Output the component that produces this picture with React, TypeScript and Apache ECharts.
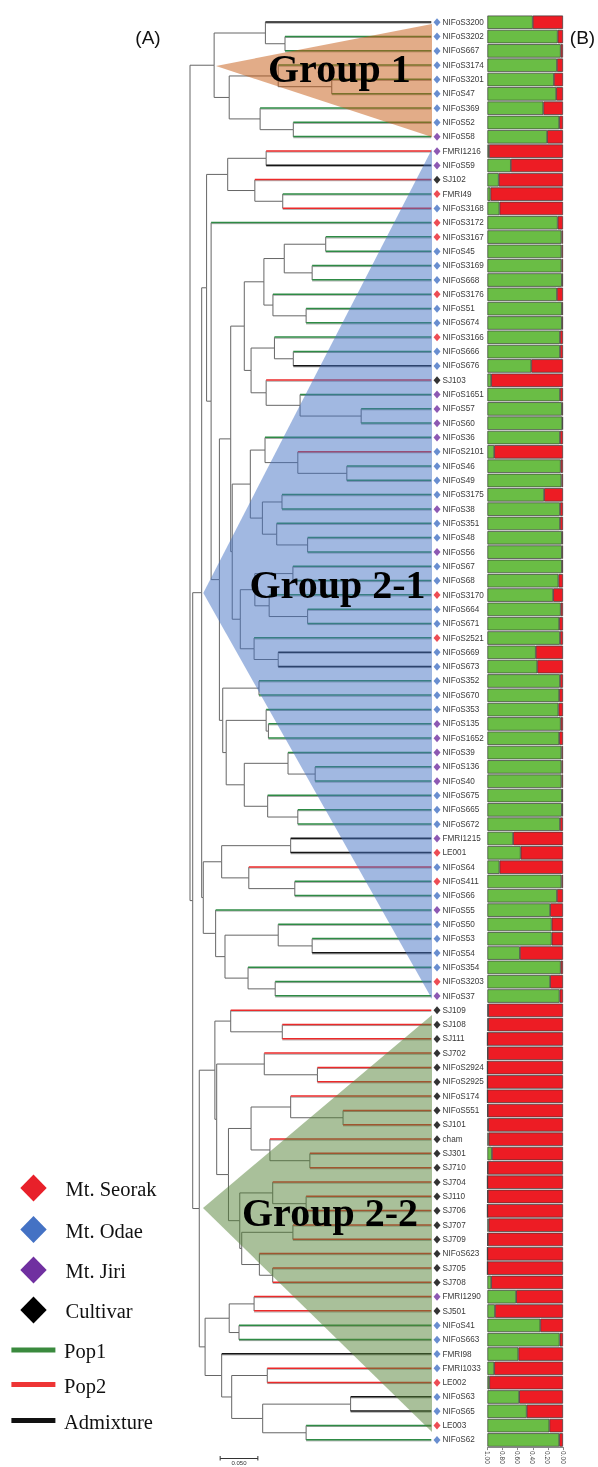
import React, { useEffect, useRef } from 'react';
import * as echarts from 'echarts';

// ---------- data ----------
const leafNames = [
  'NIFoS3200','NIFoS3202','NIFoS667','NIFoS3174','NIFoS3201','NIFoS47','NIFoS369','NIFoS52','NIFoS58','FMRI1216',
  'NIFoS59','SJ102','FMRI49','NIFoS3168','NIFoS3172','NIFoS3167','NIFoS45','NIFoS3169','NIFoS668','NIFoS3176',
  'NIFoS51','NIFoS674','NIFoS3166','NIFoS666','NIFoS676','SJ103','NIFoS1651','NIFoS57','NIFoS60','NIFoS36',
  'NIFoS2101','NIFoS46','NIFoS49','NIFoS3175','NIFoS38','NIFoS351','NIFoS48','NIFoS56','NIFoS67','NIFoS68',
  'NIFoS3170','NIFoS664','NIFoS671','NIFoS2521','NIFoS669','NIFoS673','NIFoS352','NIFoS670','NIFoS353','NIFoS135',
  'NIFoS1652','NIFoS39','NIFoS136','NIFoS40','NIFoS675','NIFoS665','NIFoS672','FMRI1215','LE001','NIFoS64',
  'NIFoS411','NIFoS66','NIFoS55','NIFoS50','NIFoS53','NIFoS54','NIFoS354','NIFoS3203','NIFoS37','SJ109',
  'SJ108','SJ111','SJ702','NIFoS2924','NIFoS2925','NIFoS174','NIFoS551','SJ101','cham','SJ301',
  'SJ710','SJ704','SJ110','SJ706','SJ707','SJ709','NIFoS623','SJ705','SJ708','FMRI1290',
  'SJ501','NIFoS41','NIFoS663','FMRI98','FMRI1033','LE002','NIFoS63','NIFoS65','LE003','NIFoS62',
];

// S = Mt. Seorak, O = Mt. Odae, J = Mt. Jiri, C = Cultivar
const leafSite = [
  'O','O','O','O','O','O','O','O','J','J',
  'J','C','S','O','S','S','O','O','O','S',
  'O','O','S','O','O','C','J','J','J','J',
  'O','O','O','O','J','O','O','J','O','O',
  'S','O','O','S','O','O','O','O','O','J',
  'J','J','J','J','O','O','O','J','S','O',
  'S','O','J','O','O','O','O','S','J','C',
  'C','C','C','C','C','C','C','C','C','C',
  'C','C','C','C','C','C','C','C','C','J',
  'C','O','O','O','O','S','O','O','S','O',
];

// P1 = Pop1, P2 = Pop2, A = Admixture
const leafCluster = [
  'A','P1','P1','P1','P1','P1','P1','P1','P1','P2',
  'A','P2','P1','P2','P1','P1','P1','P1','P1','P1',
  'P1','P1','P1','P1','A','P2','P1','P1','P1','P1',
  'P2','P1','P1','P1','P1','P1','P1','P1','P1','P1',
  'P1','P1','P1','P1','A','A','P1','P1','P1','P1',
  'P1','P1','P1','P1','P1','P1','P1','A','A','P2',
  'P1','P1','P1','P1','P1','A','P1','P1','P1','P2',
  'P2','P2','P2','P2','P2','P2','P2','P2','P2','P2',
  'P2','P2','P2','P2','P2','P2','P2','P2','P2','P2',
  'P2','P1','P1','A','P2','P2','A','A','P1','P1',
];

// share of Pop1 (green) in the structure plot
const pop1Share = [
  0.60,0.93,0.97,0.92,0.88,0.91,0.74,0.95,0.79,0.02,
  0.31,0.15,0.04,0.16,0.93,0.98,0.98,0.98,0.985,0.92,
  0.985,0.985,0.96,0.96,0.58,0.05,0.96,0.985,0.99,0.96,
  0.09,0.97,0.98,0.75,0.96,0.96,0.985,0.985,0.985,0.94,
  0.87,0.97,0.95,0.96,0.64,0.66,0.96,0.95,0.94,0.97,
  0.95,0.98,0.98,0.98,0.985,0.985,0.96,0.34,0.44,0.16,
  0.98,0.92,0.83,0.85,0.85,0.43,0.97,0.83,0.955,0.01,
  0.01,0,0.005,0,0,0,0.005,0.01,0.015,0.06,
  0.005,0,0.005,0,0.015,0.005,0,0,0.05,0.38,
  0.1,0.70,0.955,0.41,0.09,0.025,0.42,0.52,0.82,0.95,
];

// tree: leaves are indices, the number after ")" is the depth of the node
const cladeG1 = '((0,(1,2)0.126)0.1,((3,(4,5)0.188)0.117,(6,(7,8)0.137)0.093)0.052)0.032';
const cladeD = '((9,10)0.101,(11,(12,13)0.123)0.086)0.05';
const cladeK = '((((15,16)0.18,(17,18)0.162)0.125,(19,(20,21)0.154)0.11)0.098,((22,(23,24)0.137)0.112,(25,(26,(27,28)0.227)0.146)0.101)0.081)0.072';
const cladeM = '((29,(30,(31,32)0.208)0.143)0.0995,((33,34)0.122,(35,(36,37)0.156)0.115)0.096)0.08';
const cladeT = '(((38,39)0.1365,(40,(41,42)0.156)0.105)0.086,(43,(44,45)0.117)0.085)0.0667';
const cladeN222 = '((46,47)0.0915,((48,(49,50)0.104)0.101,((51,(52,53)0.166)0.13,(54,(55,56)0.143)0.103)0.072)0.048)0.0434';
const cladeN221 = '((57,58)0.1335,(59,(60,61)0.139)0.078)0.042';
const cladeN215 = '(62,((63,(64,65)0.162)0.117,(66,(67,68)0.113)0.077)0.0464)0.034';
const cladeX = '((69,(70,71)0.1224)0.054,((72,(73,74)0.169)0.0985,(((75,(76,77)0.203)0.1335,(78,(79,80)0.159)0.106)0.081,((81,(82,83)0.154)0.1097,((84,85)0.1365,(86,(87,88)0.1097)0.092)0.0686)0.066)0.051)0.0354)0.033';
const cladeY = '(((89,90)0.085,(91,92)0.065)0.052,(93,((94,95)0.1025,((96,97)0.213,(98,99)0.154)0.0964)0.0553)0.042)0.02';

const cladeQ = `(${cladeM},${cladeT})0.056`;
const cladeP = `(${cladeK},${cladeQ})0.054`;
const cladeH = `(${cladeP},${cladeN222})0.039`;
const cladeE = `(14,${cladeH})0.028`;
const cladeN206 = `(${cladeD},${cladeE})0.022`;
const cladeN203 = `(${cladeN221},${cladeN215})0.0176`;
const cladeN201 = `(${cladeN206},${cladeN203})0.0155`;
const cladeN199 = `(${cladeX},${cladeY})0.0123`;
const cladeN192 = `(${cladeN201},${cladeN199})0.0036`;
const treeString = `(${cladeG1},${cladeN192})0`;

const TIP_DEPTH = 0.32;
const barTickValues = [0, 0.2, 0.4, 0.6, 0.8, 1];
const scaleBarLength = 0.05;

const siteLegend = [
  { name: 'Mt. Seorak', code: 'S' },
  { name: 'Mt. Odae', code: 'O' },
  { name: 'Mt. Jiri', code: 'J' },
  { name: 'Cultivar', code: 'C' },
];
const clusterLegend = [
  { name: 'Pop1', code: 'P1' },
  { name: 'Pop2', code: 'P2' },
  { name: 'Admixture', code: 'A' },
];

// ---------- styles ----------
const siteColor: Record<string, string> = { S: '#e8202a', O: '#4472c4', J: '#7030a0', C: '#000000' };
const clusterColor: Record<string, string> = { P1: '#2e8b45', P2: '#ec2a2a', A: '#151515' };
const clusterLegendColor: Record<string, string> = { P1: '#3a8a3e', P2: '#ee3535', A: '#111111' };
const clusterIdx: Record<string, number> = { P1: 0, P2: 1, A: 2 };
const clusterByIdx = ['P1', 'P2', 'A'];

type TNode = { children?: TNode[]; leaf?: number; depth: number; y?: number };

function parseTree(s: string): TNode {
  let i = 0;
  const node = (): TNode => {
    if (s[i] === '(') {
      i++;
      const ch: TNode[] = [node()];
      while (s[i] === ',') { i++; ch.push(node()); }
      i++; // ')'
      let num = '';
      while (i < s.length && /[0-9.]/.test(s[i])) num += s[i++];
      return { children: ch, depth: parseFloat(num) };
    }
    let num = '';
    while (i < s.length && /[0-9]/.test(s[i])) num += s[i++];
    return { leaf: parseInt(num, 10), depth: TIP_DEPTH };
  };
  return node();
}

function layoutY(n: TNode): number {
  if (n.children) {
    const ys = n.children.map(layoutY);
    n.y = (ys[0] + ys[ys.length - 1]) / 2;
  } else {
    n.y = n.leaf as number;
  }
  return n.y as number;
}

function collectSegments(n: TNode, out: number[][]) {
  if (!n.children) return;
  for (const c of n.children) {
    const kind = c.children ? -1 : clusterIdx[leafCluster[c.leaf as number]];
    out.push([n.depth, n.y as number, c.depth, c.y as number, kind]);
    collectSegments(c, out);
  }
}

export default function App() {
  const ref = useRef<HTMLDivElement>(null);
  useEffect(() => {
    if (!ref.current) return;
    const chart = echarts.init(ref.current, null, { renderer: 'svg' });

    const root = parseTree(treeString);
    layoutY(root);
    const segments: number[][] = [];
    collectSegments(root, segments);

    const pop2Share = pop1Share.map((v) => +(1 - v).toFixed(3));

    const gridTop = 15.1;
    const gridHeight = 1432;
    const treeLeft = 190;
    const pxPerUnit = 754;
    const treeMax = 0.34;
    const labelDepth = 0.3276;

    const graphic: any[] = [];
    // group triangles
    graphic.push({ type: 'polygon', z: 5, shape: { points: [[216, 66], [432, 24], [432, 137]] }, style: { fill: 'rgba(197,90,17,0.5)' } });
    graphic.push({ type: 'polygon', z: 5, shape: { points: [[203.3, 593], [432, 149], [432, 999]] }, style: { fill: 'rgba(68,114,196,0.5)' } });
    graphic.push({ type: 'polygon', z: 5, shape: { points: [[203, 1208], [432, 1015], [432, 1432]] }, style: { fill: 'rgba(84,130,53,0.5)' } });
    const groupFont = 'bold 40px "Liberation Serif", "Times New Roman", serif';
    graphic.push({ type: 'text', z: 6, style: { text: 'Group 1', x: 268, y: 68.3, fill: '#000', font: groupFont, textVerticalAlign: 'middle' } });
    graphic.push({ type: 'text', z: 6, style: { text: 'Group 2-1', x: 249.5, y: 584, fill: '#000', font: groupFont, textVerticalAlign: 'middle' } });
    graphic.push({ type: 'text', z: 6, style: { text: 'Group 2-2', x: 242, y: 1212.5, fill: '#000', font: groupFont, textVerticalAlign: 'middle' } });
    // panel letters
    graphic.push({ type: 'text', style: { text: '(A)', x: 148, y: 37, fill: '#111', font: '19px "Liberation Sans", Arial, sans-serif', textAlign: 'center', textVerticalAlign: 'middle' } });
    graphic.push({ type: 'text', style: { text: '(B)', x: 582.5, y: 37, fill: '#111', font: '19px "Liberation Sans", Arial, sans-serif', textAlign: 'center', textVerticalAlign: 'middle' } });
    // legend
    const siteY = [1188, 1229.5, 1270, 1310];
    siteLegend.forEach((it, k) => {
      const cx = 33.5, cy = siteY[k];
      graphic.push({ type: 'polygon', shape: { points: [[cx, cy - 13.5], [cx + 13.2, cy], [cx, cy + 13.5], [cx - 13.2, cy]] }, style: { fill: siteColor[it.code] } });
      graphic.push({ type: 'text', style: { text: it.name, x: 65.5, y: cy + 1, fill: '#111', font: '20.5px "Liberation Serif", "Times New Roman", serif', textVerticalAlign: 'middle' } });
    });
    const lineY = [1350, 1384.5, 1420.5];
    clusterLegend.forEach((it, k) => {
      const cy = lineY[k];
      graphic.push({ type: 'rect', shape: { x: 11.4, y: cy - 2.5, width: 44, height: 5 }, style: { fill: clusterLegendColor[it.code] } });
      graphic.push({ type: 'text', style: { text: it.name, x: 64, y: cy + 1, fill: '#111', font: '20.5px "Liberation Serif", "Times New Roman", serif', textVerticalAlign: 'middle' } });
    });
    // scale bar
    const sbX0 = treeLeft + 0.04 * pxPerUnit;
    const sbX1 = sbX0 + scaleBarLength * pxPerUnit;
    const sbY = 1458.5;
    graphic.push({ type: 'line', shape: { x1: sbX0, y1: sbY, x2: sbX1, y2: sbY }, style: { stroke: '#333', lineWidth: 1 } });
    graphic.push({ type: 'line', shape: { x1: sbX0, y1: sbY - 2.5, x2: sbX0, y2: sbY + 2 }, style: { stroke: '#333', lineWidth: 1 } });
    graphic.push({ type: 'line', shape: { x1: sbX1, y1: sbY - 2.5, x2: sbX1, y2: sbY + 2 }, style: { stroke: '#333', lineWidth: 1 } });
    graphic.push({ type: 'text', style: { text: scaleBarLength.toFixed(3), x: (sbX0 + sbX1) / 2, y: 1460.2, fill: '#333', font: '6px "Liberation Sans", Arial, sans-serif', textAlign: 'center', textVerticalAlign: 'top' } });

    const option: any = {
      animation: false,
      graphic,
      grid: [
        { left: treeLeft, top: gridTop, width: treeMax * pxPerUnit, height: gridHeight },
        { left: 487.4, top: gridTop, width: 75.6, height: gridHeight },
      ],
      xAxis: [
        { gridIndex: 0, type: 'value', min: 0, max: treeMax, show: false },
        {
          gridIndex: 1, type: 'value', min: 0, max: 1, interval: 0.2, inverse: true, position: 'bottom',
          axisLine: { show: true, lineStyle: { color: '#888', width: 1 } },
          axisTick: { show: true, length: 3, lineStyle: { color: '#888' }, customValues: barTickValues },
          splitLine: { show: false },
          axisLabel: {
            show: true, rotate: -90, fontSize: 6.5, color: '#444', margin: 4,
            fontFamily: '"Liberation Sans", Arial, sans-serif',
            customValues: barTickValues,
            formatter: (v: number) => v.toFixed(2),
          },
        },
      ],
      yAxis: [
        { gridIndex: 0, type: 'value', min: -0.5, max: 99.5, inverse: true, show: false },
        { gridIndex: 1, type: 'category', data: leafNames, inverse: true, show: false },
      ],
      series: [
        {
          type: 'custom',
          xAxisIndex: 0,
          yAxisIndex: 0,
          data: segments,
          z: 2,
          renderItem: (_params: any, api: any) => {
            const px = api.value(0), py = api.value(1), cx = api.value(2), cy = api.value(3), kind = api.value(4);
            const a = api.coord([px, py]);
            const b = api.coord([px, cy]);
            const c = api.coord([cx, cy]);
            const children: any[] = [
              { type: 'line', shape: { x1: a[0], y1: a[1], x2: b[0], y2: b[1] }, style: { stroke: '#666', lineWidth: 1 } },
            ];
            if (kind < 0) {
              children.push({ type: 'line', shape: { x1: b[0], y1: b[1], x2: c[0], y2: c[1] }, style: { stroke: '#666', lineWidth: 1 } });
            } else {
              children.push({ type: 'line', shape: { x1: b[0], y1: b[1] + 0.9, x2: c[0], y2: c[1] + 0.9 }, style: { stroke: '#8a8a8a', lineWidth: 0.8 } });
              children.push({ type: 'line', shape: { x1: b[0], y1: b[1] - 0.2, x2: c[0], y2: c[1] - 0.2 }, style: { stroke: clusterColor[clusterByIdx[kind]], lineWidth: 1.5 } });
            }
            return { type: 'group', children };
          },
        },
        {
          type: 'scatter',
          xAxisIndex: 0,
          yAxisIndex: 0,
          symbol: 'diamond',
          symbolSize: [7, 8],
          data: leafSite.map((s, i) => ({ value: [labelDepth, i], itemStyle: { color: siteColor[s] } })),
          label: {
            show: true, position: 'right', distance: 2, fontSize: 8.2, color: '#000',
            fontFamily: '"Liberation Sans", Arial, sans-serif',
            formatter: (p: any) => leafNames[p.dataIndex],
          },
          z: 8,
        },
        {
          type: 'bar', xAxisIndex: 1, yAxisIndex: 1, stack: 'q', data: pop2Share, barCategoryGap: '6%',
          itemStyle: { color: '#ed1c24', borderColor: '#3a3a3a', borderWidth: 0.7 },
        },
        {
          type: 'bar', xAxisIndex: 1, yAxisIndex: 1, stack: 'q', data: pop1Share, barCategoryGap: '6%',
          itemStyle: { color: '#6abd45', borderColor: '#3a3a3a', borderWidth: 0.7 },
        },
      ],
    };
    chart.setOption(option);
    return () => chart.dispose();
  }, []);
  return <div ref={ref} style={{ position: 'fixed', left: 0, top: 0, width: 598, height: 1467 }} />;
}
